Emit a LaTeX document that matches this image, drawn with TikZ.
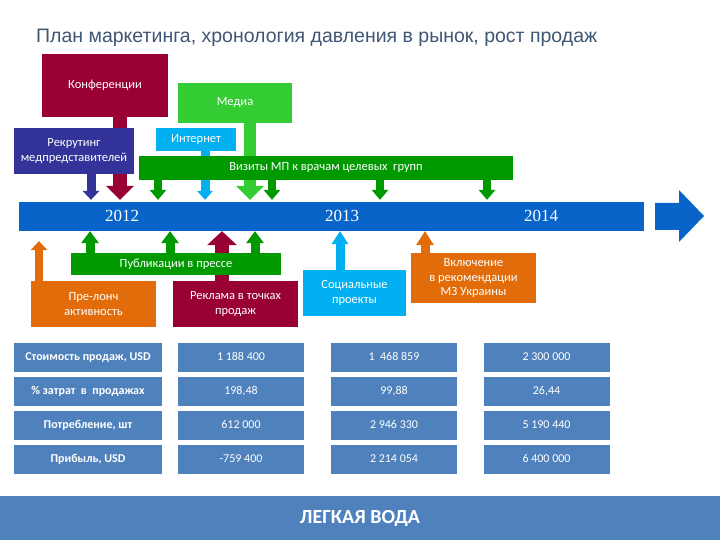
\documentclass[tikz,border=0pt]{standalone}
\usepackage{fontspec}
\setmainfont{Carlito}
\newfontfamily\titlefont{Liberation Sans}
\newfontfamily\yearfont{Liberation Serif}
\usetikzlibrary{arrows.meta, positioning, backgrounds}
\definecolor{bordo}{RGB}{153, 0, 51}
\definecolor{mediagreen}{RGB}{51, 204, 51}
\definecolor{visitgreen}{RGB}{0, 153, 0}
\definecolor{recruitblue}{RGB}{51, 51, 153}
\definecolor{netblue}{RGB}{0, 176, 240}
\definecolor{launchorange}{RGB}{227, 108, 10}
\definecolor{barblue}{RGB}{8, 100, 200}
\definecolor{cellblue}{RGB}{79, 129, 189}
\definecolor{titlecolor}{RGB}{64, 86, 117}

\begin{document}
\begin{tikzpicture}[
  x=1pt, y=-1pt,
  font=\fontsize{12.5}{14.5}\selectfont,
  box/.style={rectangle, fill=#1, text=white, align=center, inner sep=2pt},
  cell/.style={rectangle, fill=cellblue, text=white, minimum width=126pt,
               minimum height=29pt, inner sep=0pt, text height=8.5pt,
               text depth=2.5pt, font=\fontsize{12}{14}\selectfont},
  rowhead/.style={cell, minimum width=148pt,
                  font=\fontsize{12}{14}\selectfont\bfseries},
  arrow/.style n args={4}{draw=#1, line width=#2,
                          -{Triangle[width=#3, length=#4, line width=0pt]}},
  year/.style={text=white, font=\yearfont\fontsize{17}{20}\selectfont},
]
\useasboundingbox (0,0) rectangle (720,540);

% Title
\node[anchor=west, inner sep=0pt, text=titlecolor,
      font=\titlefont\fontsize{19.5}{22}\selectfont] (title) at (36,38)
  {План маркетинга, хронология давления в рынок, рост продаж};

% Activities above the timeline
\node[box=bordo, minimum width=126pt, minimum height=63pt] (konf) at (105,85.5)
  {Конференции};
\node[box=mediagreen, minimum width=114pt, minimum height=40pt] (media) at (235,103)
  {Медиа};
\node[box=recruitblue, minimum width=120pt, minimum height=46pt] (rekr) at (74,151)
  {Рекрутинг\\медпредставителей};
\node[box=netblue, minimum width=80pt, minimum height=23pt] (inet) at (196,139.5)
  {Интернет};
\node[box=visitgreen, minimum width=374pt, minimum height=24pt] (vizit) at (326,168)
  {Визиты МП к врачам целевых~ групп};

% Timeline
\node[rectangle, fill=barblue, minimum width=625pt, minimum height=29pt,
      inner sep=0pt] (bar) at (331.5,216.5) {};
\fill[barblue] (655,203) -- (679,203) -- (679,190) -- (704,216)
  -- (679,242) -- (679,230) -- (655,230) -- cycle;
\node[year] (y2012) at (122,216) {2012};
\node[year] (y2013) at (342,216) {2013};
\node[year] (y2014) at (541,216) {2014};

% Activities below the timeline
\node[box=visitgreen, minimum width=210pt, minimum height=22pt] (publ) at (176,264)
  {Публикации в прессе};
\node[box=launchorange, minimum width=125pt, minimum height=46pt] (prel) at (93.5,304)
  {Пре-лонч\\активность};
\node[box=bordo, minimum width=125pt, minimum height=46pt] (reklama) at (235.5,304)
  {Реклама в точках\\продаж};
\node[box=netblue, minimum width=103pt, minimum height=46pt] (soc) at (354.5,293)
  {Социальные\\проекты};
\node[box=launchorange, minimum width=125pt, minimum height=50pt] (vkl) at (473.5,278)
  {Включение\\в рекомендации\\МЗ Украины};

% Arrows into the timeline
\begin{scope}[on background layer]
\fill[white] (0,0) rectangle (720,540);
\draw[arrow={bordo}{14pt}{28pt}{14pt}, shorten >=2pt]
  (konf.south -| 120,0) -- (bar.north -| 120,0);
\draw[arrow={recruitblue}{9pt}{17pt}{9pt}, shorten >=2pt]
  (rekr.south -| 91,0) -- (bar.north -| 91,0);
\draw[arrow={netblue}{9pt}{16pt}{9pt}, shorten >=2pt]
  (inet.south -| 205,0) -- (bar.north -| 205,0);
\draw[arrow={mediagreen}{12pt}{28pt}{14pt}, shorten >=2pt]
  (media.south -| 250,0) -- (bar.north -| 250,0);
\draw[arrow={visitgreen}{8pt}{17pt}{10pt}, shorten >=2pt]
  (vizit.south -| 158,0) -- (bar.north -| 158,0);
\draw[arrow={visitgreen}{8pt}{17pt}{10pt}, shorten >=2pt]
  (vizit.south -| 272,0) -- (bar.north -| 272,0);
\draw[arrow={visitgreen}{8pt}{17pt}{10pt}, shorten >=2pt]
  (vizit.south -| 380,0) -- (bar.north -| 380,0);
\draw[arrow={visitgreen}{8pt}{17pt}{10pt}, shorten >=2pt]
  (vizit.south -| 487,0) -- (bar.north -| 487,0);

\draw[arrow={launchorange}{8pt}{17pt}{9pt}, shorten >=10pt]
  (prel.north -| 39,0) -- (bar.south -| 39,0);
\draw[arrow={visitgreen}{9pt}{18pt}{12pt}]
  (publ.north -| 90,0) -- (bar.south -| 90,0);
\draw[arrow={visitgreen}{9pt}{18pt}{12pt}]
  (publ.north -| 170,0) -- (bar.south -| 170,0);
\draw[arrow={visitgreen}{9pt}{18pt}{12pt}]
  (publ.north -| 255,0) -- (bar.south -| 255,0);
\draw[arrow={bordo}{14pt}{30pt}{14pt}]
  (reklama.north -| 222,0) -- (bar.south -| 222,0);
\draw[arrow={netblue}{9pt}{17pt}{13pt}]
  (soc.north -| 340,0) -- (bar.south -| 340,0);
\draw[arrow={launchorange}{9pt}{18pt}{14pt}]
  (vkl.north -| 425,0) -- (bar.south -| 425,0);
\end{scope}

% Sales table
\node[rowhead] (cost) at (88,357.5) {Стоимость продаж, USD};
\node[cell] (cost12) at (241,357.5) {1 188 400};
\node[cell] (cost13) at (394,357.5) {1~ 468 859};
\node[cell] (cost14) at (546.5,357.5) {2 300 000};

\node[rowhead] (share) at (88,391.5) {\% затрат~ в~ продажах};
\node[cell] (share12) at (241,391.5) {198,48};
\node[cell] (share13) at (394,391.5) {99,88};
\node[cell] (share14) at (546.5,391.5) {26,44};

\node[rowhead] (units) at (88,425) {Потребление, шт};
\node[cell] (units12) at (241,425) {612 000};
\node[cell] (units13) at (394,425) {2 946 330};
\node[cell] (units14) at (546.5,425) {5 190 440};

\node[rowhead] (profit) at (88,459) {Прибыль, USD};
\node[cell] (profit12) at (241,459) {-759 400};
\node[cell] (profit13) at (394,459) {2 214 054};
\node[cell] (profit14) at (546.5,459) {6 400 000};

% Footer
\node[rectangle, fill=cellblue, minimum width=720pt, minimum height=44pt,
      inner sep=0pt, text=white,
      font=\fontsize{20}{24}\selectfont\bfseries] (footer) at (360,518)
  {ЛЕГКАЯ ВОДА};

\end{tikzpicture}
\end{document}
